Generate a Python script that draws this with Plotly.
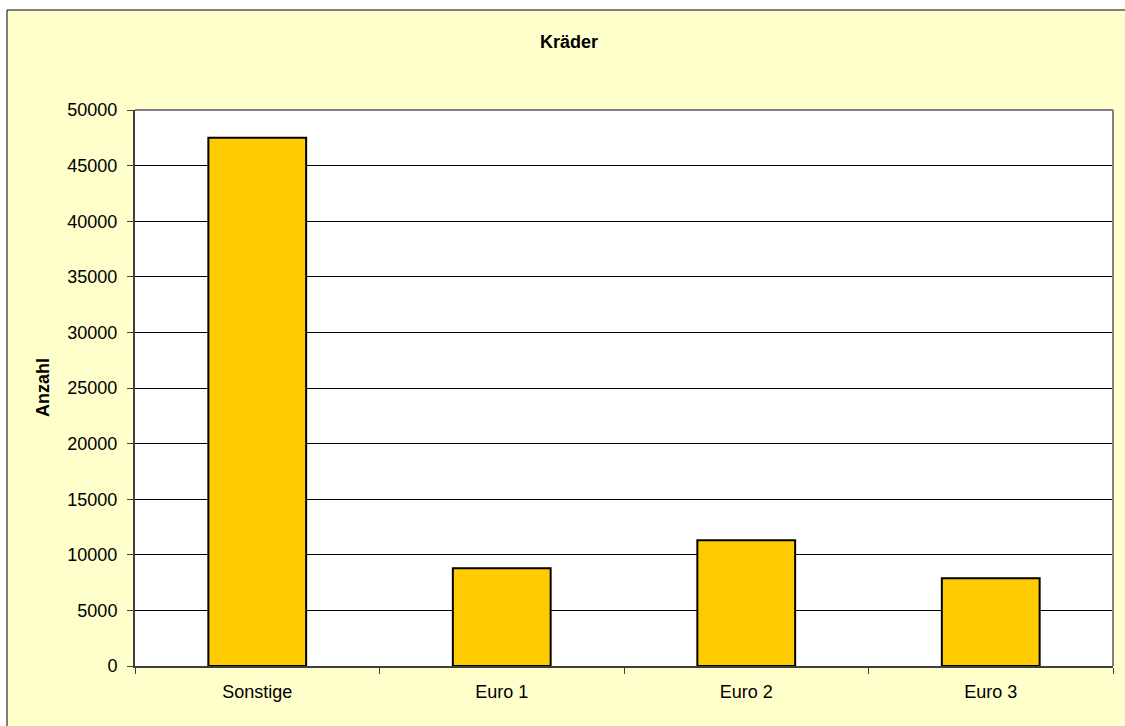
import plotly.graph_objects as go

# Kräder: Anzahl nach Abgasnorm
categories = ["Sonstige", "Euro 1", "Euro 2", "Euro 3"]
anzahl = [47500, 8800, 11300, 7900]
y_ticks = list(range(0, 50001, 5000))

W, H = 1125, 726
L, R, T, B = 135, 12, 110, 60
PW, PH = W - L - R, H - T - B


def px_x(x):
    return (x - L) / PW


def px_y(y):
    return (H - B - y) / PH


FONT = "Liberation Sans, Arial, sans-serif"

fig = go.Figure(
    go.Bar(
        x=categories,
        y=anzahl,
        marker=dict(color="#FFCC00", line=dict(color="#000000", width=2)),
        hoverinfo="x+y",
    )
)

fig.update_layout(
    width=W,
    height=H,
    margin=dict(l=L, r=R, t=T, b=B),
    paper_bgcolor="#FFFFFF",
    plot_bgcolor="#FFFFFF",
    bargap=0.6,
    showlegend=False,
    font=dict(family=FONT, size=18, color="#000000"),
    title=dict(
        text="<b>Kräder</b>",
        x=569 / W,
        xref="container",
        xanchor="center",
        y=1 - 42 / H,
        yref="container",
        yanchor="middle",
        font=dict(family=FONT, size=18, color="#000000"),
    ),
    shapes=[
        # chart area with black frame
        dict(type="rect", xref="paper", yref="paper", layer="below",
             x0=px_x(7), x1=px_x(1140), y0=px_y(740), y1=px_y(10),
             fillcolor="#FFFFCC", line=dict(color="#000000", width=1)),
        # plot area
        dict(type="rect", xref="paper", yref="paper", layer="below",
             x0=0, x1=1, y0=0, y1=1,
             fillcolor="#FFFFFF", line=dict(width=0)),
        # grey frame on top and right of the plot area
        dict(type="line", xref="paper", yref="paper", layer="above",
             x0=0, x1=1, y0=1, y1=1, line=dict(color="#808080", width=2)),
        dict(type="line", xref="paper", yref="paper", layer="above",
             x0=1, x1=1, y0=0, y1=1, line=dict(color="#808080", width=2)),
    ],
    annotations=[
        dict(text="<b>Anzahl</b>", xref="paper", yref="paper",
             x=px_x(43), y=0.5, xanchor="center", yanchor="middle",
             textangle=-90, showarrow=False,
             font=dict(family=FONT, size=18, color="#000000")),
    ],
)

fig.update_xaxes(
    type="category",
    showgrid=False,
    showline=True,
    linecolor="#404040",
    linewidth=2,
    ticks="outside",
    tickson="boundaries",
    ticklen=6,
    tickcolor="#404040",
    tickwidth=1,
    ticklabelstandoff=8,
    tickfont=dict(family=FONT, size=18, color="#000000"),
)

fig.update_yaxes(
    range=[0, 50000],
    tickvals=y_ticks,
    ticktext=[str(v) for v in y_ticks],
    showgrid=True,
    gridcolor="#000000",
    gridwidth=1,
    zeroline=False,
    showline=True,
    linecolor="#404040",
    linewidth=2,
    ticks="outside",
    ticklen=6,
    tickcolor="#404040",
    tickwidth=1,
    ticklabelstandoff=6,
    tickfont=dict(family=FONT, size=18, color="#000000"),
)

fig.write_html("out.html")
